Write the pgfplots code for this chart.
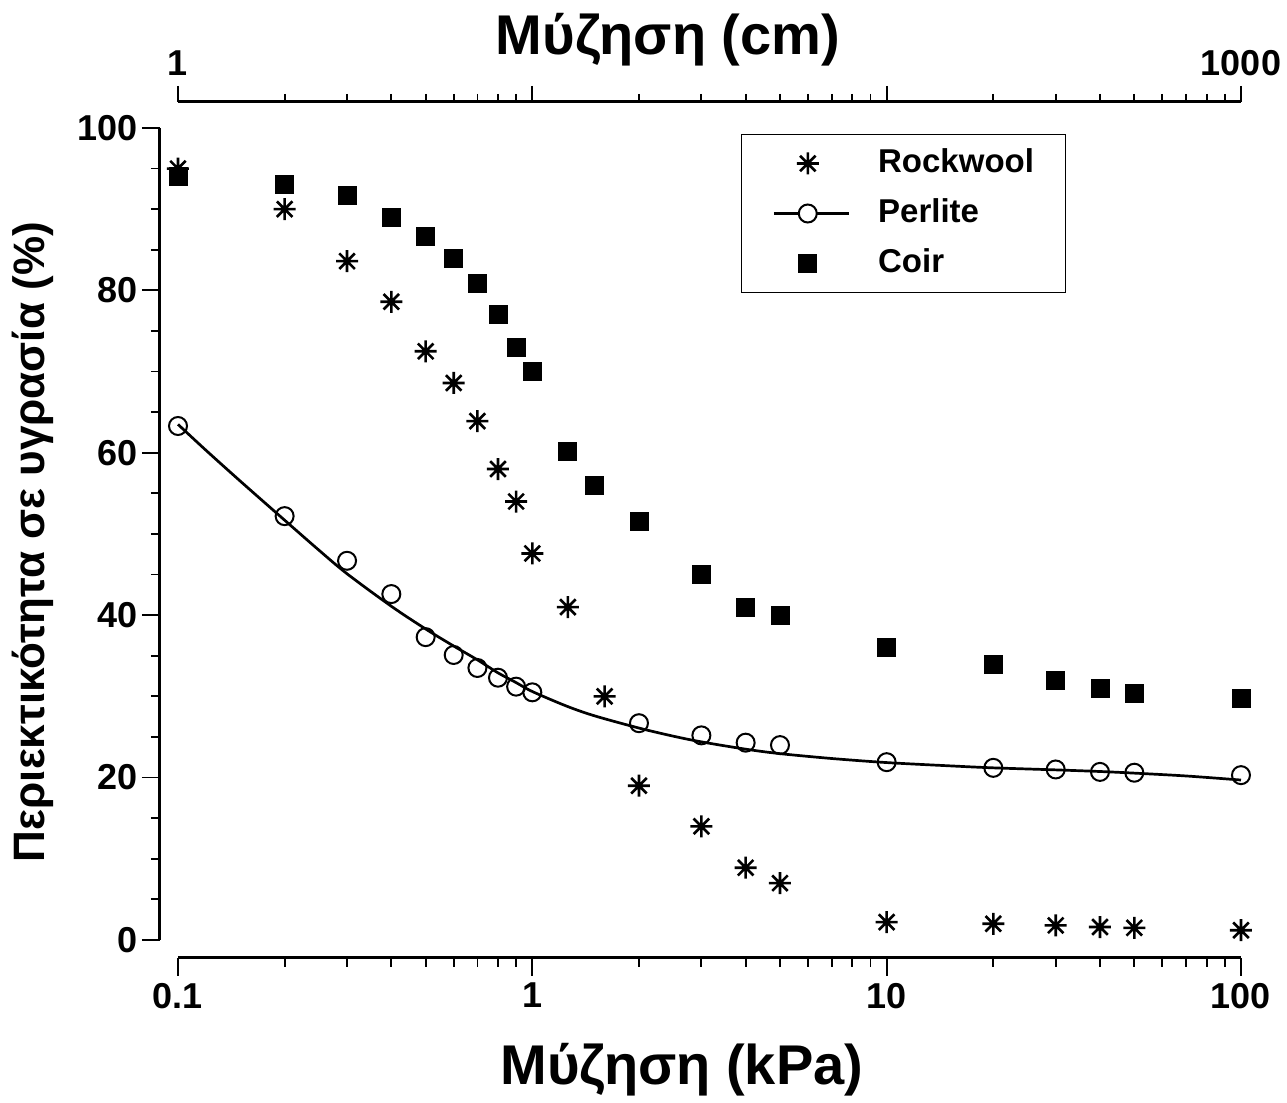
\documentclass[border=0pt]{standalone}
\usepackage{pgfplots}
\pgfplotsset{compat=1.18}
\usepackage{fontspec}
\setmainfont{Liberation Sans}

\pgfdeclareplotmark{ast8}{%
  \pgfpathmoveto{\pgfqpoint{-\pgfplotmarksize}{0pt}}%
  \pgfpathlineto{\pgfqpoint{\pgfplotmarksize}{0pt}}%
  \pgfpathmoveto{\pgfqpoint{0pt}{-\pgfplotmarksize}}%
  \pgfpathlineto{\pgfqpoint{0pt}{\pgfplotmarksize}}%
  \pgfpathmoveto{\pgfqpoint{-0.7071\pgfplotmarksize}{-0.7071\pgfplotmarksize}}%
  \pgfpathlineto{\pgfqpoint{0.7071\pgfplotmarksize}{0.7071\pgfplotmarksize}}%
  \pgfpathmoveto{\pgfqpoint{-0.7071\pgfplotmarksize}{0.7071\pgfplotmarksize}}%
  \pgfpathlineto{\pgfqpoint{0.7071\pgfplotmarksize}{-0.7071\pgfplotmarksize}}%
  \pgfusepathqstroke}

\pgfplotsset{
  common/.style={width=531.5pt,height=406pt,scale only axis},
  every tick/.style={black, line width=0.9pt},
  tick label style={font=\bfseries\fontsize{18}{20}\selectfont},
  /pgf/number format/assume math mode=true,
}

\begin{document}
\begin{tikzpicture}
% y axis
\begin{axis}[common, at={(-9pt,0pt)}, xmin=0, xmax=1, ymin=0, ymax=100,
  axis y line=left, axis x line=none, axis line style={-, line width=1.5pt},
  ytick={0,20,...,100}, minor y tick num=3, tick align=outside,
  major tick length=9pt, minor tick length=4.5pt,
  yticklabel style={xshift=1.5pt},
  ylabel={Περιεκτικότητα σε υγρασία (\%)},
  ylabel style={font=\bfseries\fontsize{22}{26}\selectfont, at={(axis description cs:0,0.49)}, anchor=center, yshift=63.5pt}]
\end{axis}
% bottom x axis
\begin{axis}[common, at={(0pt,-9pt)}, xmode=log, xmin=0.1, xmax=100, ymin=0, ymax=1,
  axis x line=bottom, axis y line=none, axis line style={-, line width=1.5pt},
  xtick={0.1,1,10,100}, xticklabels={0.1,1,10,100}, tick align=outside,
  major tick length=9pt, minor tick length=4.5pt,
  xlabel={Μύζηση (kPa)}, xlabel style={font=\bfseries\fontsize{28}{32}\selectfont, at={(axis description cs:0.474,0)}, anchor=center, yshift=-56pt}]
\end{axis}
% top x axis
\begin{axis}[common, at={(0pt,13pt)}, xmode=log, xmin=1, xmax=1000, ymin=0, ymax=1,
  axis x line=top, axis y line=none, axis line style={-, line width=1.5pt},
  xtick={1,10,100,1000}, xticklabels={1,,,1000}, tick align=outside,
  major tick length=8pt, minor tick length=4pt,
  xticklabel style={yshift=1.5pt},
  xlabel={Μύζηση (cm)}, xlabel style={font=\bfseries\fontsize{28}{32}\selectfont, at={(axis description cs:0.461,1)}, anchor=center, yshift=31pt}]
\end{axis}
% data
\begin{axis}[common, xmode=log, xmin=0.1, xmax=100, ymin=0, ymax=100, hide axis, clip=false,
  legend cell align=left,
  legend style={at={(0.5296,0.9926)}, anchor=north west, draw=black, line width=0.5pt,
    font=\bfseries\fontsize{16.5}{20}\selectfont,
    nodes={inner sep=0pt, text height=12pt, text depth=3pt},
    inner xsep=15.5pt, inner ysep=7pt, row sep=10pt, column sep=14pt},
  legend image code/.code={\path[draw=none,fill=none] (0pt,-1pt) rectangle (37.5pt,1pt);
    \draw[#1] plot coordinates {(17pt,0pt)};}]
\addplot[only marks, mark=ast8, mark size=5.5pt, line width=1.3pt] coordinates {
(0.1,95) (0.2,90) (0.3,83.6) (0.4,78.6) (0.5,72.5) (0.6,68.6) (0.7,63.9) (0.8,58) (0.9,54)
(1.0,47.6) (1.26,41) (1.6,30) (2,19) (3,14) (4,8.9) (5,7) (10,2.2) (20,2.0) (30,1.8)
(40,1.6) (50,1.5) (100,1.2)};
\addlegendentry{Rockwool}
\addplot[only marks, mark=o, mark size=4.5pt, line width=1pt,
  legend image code/.code={\path[draw=none,fill=none] (0pt,-1pt) rectangle (37.5pt,1pt);
    \draw[line width=1.35pt] (0pt,0pt) -- (37.5pt,0pt);
    \draw[line width=1pt, mark=*, mark size=4.5pt, mark options={fill=white}] plot coordinates {(17pt,0pt)};}] coordinates {
(0.1,63.3) (0.2,52.2) (0.3,46.7) (0.4,42.6) (0.5,37.3) (0.6,35.1) (0.7,33.5) (0.8,32.3)
(0.9,31.2) (1.0,30.5) (2,26.7) (3,25.2) (4,24.3) (5,24.0) (10,21.9) (20,21.2) (30,21.0)
(40,20.7) (50,20.6) (100,20.3)};
\addlegendentry{Perlite}
\addplot[line width=1.35pt, smooth, tension=0.5, forget plot] coordinates {
(0.1,63.5) (0.12,60.3) (0.15,56.5) (0.2,51.7) (0.25,48.0) (0.3,45.1) (0.4,41.1) (0.5,38.3)
(0.6,36.2) (0.7,34.5) (0.8,32.9) (0.9,31.7) (1.0,30.6) (1.25,28.8) (1.5,27.6) (2,26.1)
(2.5,25.1) (3,24.4) (4,23.5) (5,22.95) (7,22.35) (10,21.85) (15,21.45) (20,21.2) (30,20.95)
(40,20.75) (50,20.55) (70,20.2) (100,19.7)};
\addplot[only marks, mark=square*, mark size=4.5pt] coordinates {
(0.1,94) (0.2,93) (0.3,91.7) (0.4,89) (0.5,86.7) (0.6,84) (0.7,80.9) (0.8,77) (0.9,73)
(1.0,70) (1.26,60.2) (1.5,56) (2,51.6) (3,45) (4,41) (5,40) (10,36) (20,34) (30,32)
(40,31) (50,30.4) (100,29.7)};
\addlegendentry{Coir}
\end{axis}
\pgfresetboundingbox
\path[use as bounding box] (-89pt,-81.5pt) rectangle (554.5pt,470pt);
\end{tikzpicture}
\end{document}
